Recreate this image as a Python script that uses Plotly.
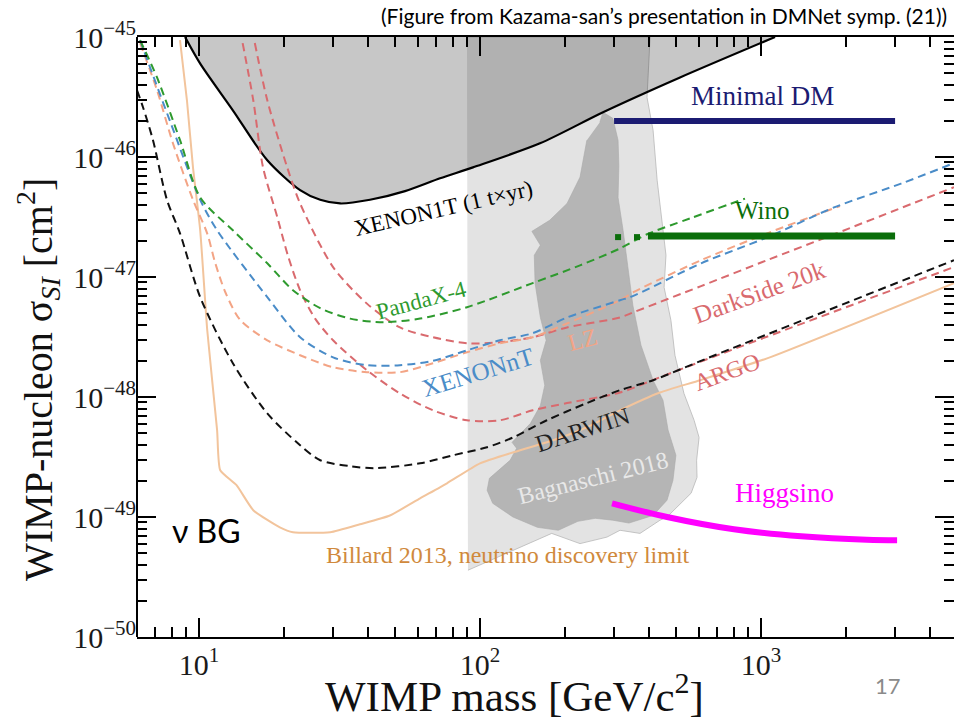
import plotly.graph_objects as go

# ---------------- data (WIMP mass in GeV, cross-section in cm^2) ----------------
xenon1t_mass = [8.92, 10.1, 13.2, 17.5, 22.9, 27.0, 31.8, 40.6, 54.1, 72.1, 94.4, 163.5, 274, 515, 1122]
xenon1t_sigma = [1.0e-45, 6.0e-46, 2.45e-46, 9.4e-47, 5.3e-47, 4.4e-47, 4.1e-47, 4.4e-47, 5.2e-47,
                 6.65e-47, 8.2e-47, 1.3e-46, 2.36e-46, 4.6e-46, 1.0e-45]

pandax_mass = [6.17, 7.09, 8.56, 10.1, 13.2, 17.5, 21.6, 27.0, 34.5, 45.2, 61.2, 89.9, 154, 227, 315, 393, 559, 877]
pandax_sigma = [9.4e-46, 4.6e-46, 1.38e-46, 4.6e-47, 2.45e-47, 1.3e-47, 7.75e-48, 5.5e-48, 4.5e-48, 4.2e-48,
                4.5e-48, 5.6e-48, 8.9e-48, 1.25e-47, 1.73e-47, 2.27e-47, 3.08e-47, 4.5e-47]

xenonnt_mass = [6.17, 7.88, 10.1, 11.6, 17.5, 22.9, 30.0, 39.6, 51.9, 68.0, 89.9, 117.8, 154, 204, 315, 353,
                612, 1051, 1819, 3150, 4862]
xenonnt_sigma = [9.4e-46, 2.0e-46, 4.4e-47, 2.45e-47, 6.8e-48, 3.15e-48, 2.14e-48, 1.84e-48, 1.84e-48, 2.0e-48,
                 2.45e-48, 2.97e-48, 3.4e-48, 4.6e-48, 6.4e-48, 7.0e-48, 1.3e-47, 2.14e-47, 3.8e-47, 6.0e-47, 8.9e-47]

lz_mass = [6.17, 7.09, 8.08, 9.52, 10.7, 11.4, 12.4, 14.0, 17.5, 22.9, 30.0, 39.6, 51.9, 68.0, 89.9, 117.8,
           154, 204, 315, 353, 612, 1051, 1910]
lz_sigma = [8.9e-46, 3.6e-46, 1.3e-46, 4.4e-47, 2.3e-47, 1.33e-47, 7.5e-48, 4.4e-48, 2.97e-48, 2.23e-48,
            1.77e-48, 1.61e-48, 1.61e-48, 1.91e-48, 2.36e-48, 2.8e-48, 3.15e-48, 4.1e-48, 6.4e-48, 7.5e-48,
            1.38e-47, 2.31e-47, 3.9e-47]

darkside_mass = [15.8, 17.5, 20.6, 22.9, 30.0, 39.6, 51.9, 68.0, 89.9, 117.8, 154, 204, 315, 353, 612, 1051,
                 1819, 4862]
darkside_sigma = [8.9e-46, 2.97e-46, 8.2e-47, 4.1e-47, 1.21e-47, 6.0e-48, 3.8e-48, 3.15e-48, 2.8e-48, 2.86e-48,
                  3.15e-48, 3.8e-48, 4.6e-48, 5.1e-48, 8.4e-48, 1.38e-47, 2.27e-47, 5.6e-47]

argo_mass = [14.3, 15.6, 16.9, 19.0, 20.7, 22.9, 25.9, 30.0, 39.6, 51.9, 68.0, 89.9, 117.8, 154, 204, 315,
             437, 715, 4862]
argo_sigma = [8.9e-46, 2.97e-46, 8.2e-47, 3.15e-47, 1.52e-47, 7.75e-48, 4.5e-48, 2.97e-48, 1.67e-48, 1.07e-48,
              7.75e-49, 6.4e-49, 6.4e-49, 7.75e-49, 8.9e-49, 1.09e-48, 1.46e-48, 2.27e-48, 1.21e-47]

darwin_mass = [6.02, 6.32, 6.86, 7.69, 8.56, 10.1, 13.2, 17.5, 22.9, 27.0, 34.5, 42.3, 61.2, 80.2, 105.9,
               131, 173, 240, 315, 413, 643, 4862]
darwin_sigma = [3.6e-46, 2.6e-46, 1.38e-46, 4.4e-47, 2.31e-47, 6.8e-48, 1.91e-48, 7.3e-49, 3.96e-49, 2.97e-49,
                2.65e-49, 2.55e-49, 2.8e-49, 3.27e-49, 3.81e-49, 4.6e-49, 6.4e-49, 8.9e-49, 1.14e-48, 1.38e-48,
                2.1e-48, 1.38e-47]

billard_mass = [8.56, 9.06, 9.52, 10.1, 10.7, 11.6, 11.9, 13.6, 15.6, 19.4, 21.6, 29.3, 37.4, 47.8, 61.2,
                76.3, 100, 139, 182, 240, 315, 437, 607, 1051, 4862]
billard_sigma = [9.4e-46, 2.97e-46, 8.2e-47, 2.45e-47, 3.6e-48, 5.3e-49, 2.45e-49, 1.84e-49, 1.14e-49, 8.2e-50,
                 7.46e-50, 7.46e-50, 8.7e-50, 1.03e-49, 1.43e-49, 1.91e-49, 2.8e-49, 3.6e-49, 4.36e-49, 5.6e-49,
                 7.75e-49, 1.09e-48, 1.38e-48, 2.1e-48, 8.9e-48]

bagnaschi_outer_mass = [89.9, 403, 393, 413, 427, 445, 459, 452, 478, 494, 532, 578, 602, 590, 592, 564, 502,
                        463, 437, 371, 315, 283, 227, 180, 90.6]
bagnaschi_outer_sigma = [1.0e-45, 1.0e-45, 3.14e-46, 1.67e-46, 6.4e-47, 2.7e-47, 1.52e-47, 8.2e-48, 4.36e-48,
                         2.23e-48, 1.07e-48, 6.4e-49, 4.6e-49, 2.97e-49, 2.14e-49, 1.58e-49, 1.21e-49, 1.0e-49,
                         9.4e-50, 7.3e-50, 7.75e-50, 6.8e-50, 6.0e-50, 7.3e-50, 3.6e-50]

bagnaschi_inner_mass = [267, 274, 297, 310, 312, 310, 323, 336, 350, 374, 413, 448, 467, 498, 486, 463, 413,
                        339, 297, 257, 223, 190, 160, 131, 111, 106, 108, 128, 135, 130, 151, 164, 170, 164,
                        172, 164, 157, 156, 164, 153, 177, 204, 227, 240]
bagnaschi_inner_sigma = [1.95e-46, 2.36e-46, 2.1e-46, 1.38e-46, 8.5e-47, 4.6e-47, 2.45e-47, 1.14e-47, 5.8e-48,
                         2.7e-48, 1.38e-48, 9.4e-49, 5.3e-49, 3.27e-49, 2.02e-49, 1.38e-49, 1.03e-49, 8.9e-50,
                         9.4e-50, 9.75e-50, 9.2e-50, 7.75e-50, 8.2e-50, 1.0e-49, 1.3e-49, 1.67e-49, 2.1e-49,
                         2.97e-49, 3.74e-49, 4.19e-49, 6.0e-49, 8.5e-49, 1.25e-48, 2.02e-48, 2.97e-48, 4.6e-48,
                         8.9e-48, 1.52e-47, 1.84e-47, 2.4e-47, 2.97e-47, 4.1e-47, 6.8e-47, 1.38e-46]

minimal_dm_mass = [300, 3000]
minimal_dm_sigma = [2.0e-46, 2.0e-46]

wino_dot_mass = [310, 362]
wino_dot_sigma = [2.15e-47, 2.15e-47]
wino_mass = [396, 3000]
wino_sigma = [2.2e-47, 2.2e-47]

higgsino_mass = [295, 463, 801, 1390, 2380, 3050]
higgsino_sigma = [1.3e-49, 1.0e-49, 7.9e-50, 6.9e-50, 6.45e-50, 6.4e-50]

x_tick_vals = [10, 100, 1000]
x_tick_text = ["10<sup>1</sup>", "10<sup>2</sup>", "10<sup>3</sup>"]
y_tick_vals = [1e-50, 1e-49, 1e-48, 1e-47, 1e-46, 1e-45]
y_tick_text = ["10<sup>\u221250</sup>", "10<sup>\u221249</sup>", "10<sup>\u221248</sup>",
               "10<sup>\u221247</sup>", "10<sup>\u221246</sup>", "10<sup>\u221245</sup>"]

# ---------------- figure ----------------
W, H = 954, 720
L, R, T, B = 137, 0, 37, 83
SERIF = "Liberation Serif, Times New Roman, serif"
SANS = "Lato, Noto Sans, sans-serif"

fig = go.Figure()

# Bagnaschi 2018 regions
fig.add_trace(go.Scatter(x=bagnaschi_outer_mass, y=bagnaschi_outer_sigma, mode="lines", fill="toself",
                         fillcolor="#e3e3e3", line=dict(color="#b8b8b8", width=0.8), hoverinfo="skip"))
fig.add_trace(go.Scatter(x=bagnaschi_inner_mass, y=bagnaschi_inner_sigma, mode="lines", fill="toself",
                         fillcolor="#b5b5b5", line=dict(color="#aaaaaa", width=0.6), hoverinfo="skip"))

# XENON1T exclusion
fig.add_trace(go.Scatter(x=xenon1t_mass, y=xenon1t_sigma, mode="lines", fill="toself",
                         fillcolor="rgba(0,0,0,0.22)",
                         line=dict(color="black", width=2.2, shape="spline", smoothing=0.8)))

DASH = "8px,5px"
def dashed(x, y, color, width=2):
    fig.add_trace(go.Scatter(x=x, y=y, mode="lines",
                             line=dict(color=color, width=width, dash=DASH, shape="spline", smoothing=0.8)))

fig.add_trace(go.Scatter(x=billard_mass, y=billard_sigma, mode="lines",
                         line=dict(color="#f2c49c", width=2, shape="spline", smoothing=0.5)))
dashed(darkside_mass, darkside_sigma, "#d96a6e")
dashed(argo_mass, argo_sigma, "#d96a6e")
dashed(lz_mass, lz_sigma, "#f3a485")
dashed(xenonnt_mass, xenonnt_sigma, "#4a8cc8")
dashed(pandax_mass, pandax_sigma, "#2e9a2e")
dashed(darwin_mass, darwin_sigma, "#111111")

# theory lines
fig.add_trace(go.Scatter(x=minimal_dm_mass, y=minimal_dm_sigma, mode="lines",
                         line=dict(color="#1b1b72", width=6)))
fig.add_trace(go.Scatter(x=wino_mass, y=wino_sigma, mode="lines",
                         line=dict(color="#0b6e0b", width=7)))
fig.add_trace(go.Scatter(x=wino_dot_mass, y=wino_dot_sigma, mode="markers",
                         marker=dict(symbol="square", size=6, color="#0b6e0b")))
fig.add_trace(go.Scatter(x=higgsino_mass, y=higgsino_sigma, mode="lines",
                         line=dict(color="#ff00ff", width=6, shape="spline", smoothing=1.0)))

def px2paper(X, Y):
    return (X - L) / (W - L - R), (H - B - Y) / (H - T - B)

def label(text, X, Y, color, size, angle=0, family=SERIF, xanchor="center"):
    px_, py_ = px2paper(X, Y)
    fig.add_annotation(text=text, x=px_, y=py_, xref="paper", yref="paper", showarrow=False,
                       xanchor=xanchor, yanchor="middle", textangle=angle,
                       font=dict(family=family, size=size, color=color))

label("Minimal DM", 762, 96, "#1b1b72", 27)
label("XENON1T (1 t\u00d7yr)", 443, 208, "black", 23, -13)
label("Wino", 762, 210, "#0b6e0b", 25)
label("PandaX-4", 421, 300, "#2e9a2e", 23, -15)
label("XENONnT", 477, 372, "#4a8cc8", 25, -17)
label("LZ", 582, 340, "#f3a485", 24, -15)
label("DarkSide 20k", 759, 292, "#d96a6e", 25, -20)
label("ARGO", 727, 372, "#d96a6e", 24, -20)
label("DARWIN", 582, 430, "#222222", 24, -18)
label("Bagnaschi 2018", 593, 478, "#e8e8e8", 24, -14)
label("Higgsino", 784, 493, "#ff00ff", 27)
label("Billard 2013, neutrino discovery limit", 508, 555, "#d0893c", 24)
label("\u03bd BG", 206, 530, "black", 32, family=SANS)
label("17", 888, 685, "#8a8a8a", 22, family=SANS)
label("(Figure from Kazama-san\u2019s presentation in DMNet symp. (21))", 949, 15, "black", 21,
      family=SANS, xanchor="right")
# axis titles
label("WIMP mass [GeV/c<sup>2</sup>]", 514, 693, "#111111", 43)
label("WIMP-nucleon \u03c3<sub><i>SI</i></sub> [cm<sup>2</sup>]", 38, 380, "#111111", 40, -90)

# left axis line (the right edge of the frame lies outside the picture)
fig.add_shape(type="line", xref="paper", yref="paper", x0=0, x1=0, y0=0, y1=1,
              line=dict(color="black", width=2))

x_minor = [7, 8, 9] + [k * 10 for k in range(2, 10)] + [k * 100 for k in range(2, 10)] + [2000, 3000, 4000]
y_minor = [k * 10.0 ** e for e in range(-50, -45) for k in range(2, 10)]

axis_common = dict(type="log", showgrid=False, zeroline=False, linecolor="black", linewidth=2,
                   mirror="ticks", ticks="inside", ticklen=19, tickwidth=1.8, tickcolor="black",
                   tickmode="array", tickfont=dict(family=SERIF, size=30, color="#1a1a1a"))

fig.update_xaxes(**axis_common, showline=True, range=[0.7794, 3.6868], tickvals=x_tick_vals,
                 ticktext=x_tick_text,
                 minor=dict(tickmode="array", tickvals=x_minor, ticks="inside", ticklen=10, tickwidth=1.5,
                            tickcolor="black", showgrid=False))
fig.update_yaxes(**axis_common, showline=False, range=[-50.0, -45.0], tickvals=y_tick_vals,
                 ticktext=y_tick_text,
                 minor=dict(tickmode="array", tickvals=y_minor, ticks="inside", ticklen=10, tickwidth=1.5,
                            tickcolor="black", showgrid=False))

fig.update_layout(width=W, height=H, margin=dict(l=L, r=R, t=T, b=B, autoexpand=False),
                  paper_bgcolor="white", plot_bgcolor="white", showlegend=False)

fig.write_html("out.html")
